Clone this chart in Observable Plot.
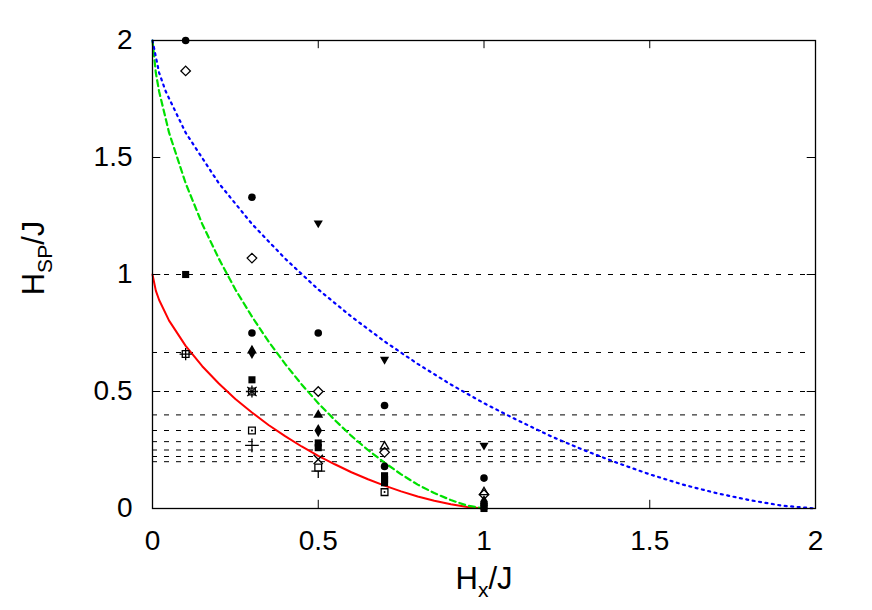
<!DOCTYPE html>
<html><head><meta charset="utf-8">
<script src="https://cdn.jsdelivr.net/npm/d3@7"></script>
<script src="https://cdn.jsdelivr.net/npm/@observablehq/plot@0.6"></script>
<style>body{margin:0;background:#fff;font-family:"Liberation Sans",Arial,sans-serif}</style>
</head><body><div id="chart"></div>
<script>
// axis ticks
const xTicks = [0, 0.5, 1, 1.5, 2];
const yTicks = [0, 0.5, 1, 1.5, 2];
// horizontal dashed reference levels
const hLines = [1, 0.6667, 0.5, 0.4, 0.3333, 0.2857, 0.25, 0.2222, 0.2];
// red solid curve
const redX = [0, 0.01, 0.02, 0.05, 0.1, 0.15, 0.2, 0.25, 0.3, 0.35, 0.4, 0.45, 0.5, 0.55, 0.6, 0.65, 0.7, 0.75, 0.8, 0.85, 0.9, 0.95, 1];
const redY = [1, 0.931, 0.891, 0.803, 0.695, 0.608, 0.534, 0.468, 0.410, 0.357, 0.309, 0.265, 0.225, 0.189, 0.155, 0.125, 0.098, 0.073, 0.051, 0.033, 0.018, 0.006, 0];
// green dashed curve
const greenX = [0, 0.01, 0.02, 0.05, 0.1, 0.15, 0.2, 0.25, 0.3, 0.35, 0.4, 0.45, 0.5, 0.55, 0.6, 0.65, 0.7, 0.75, 0.8, 0.85, 0.9, 0.95, 1];
const greenY = [2, 1.862, 1.782, 1.606, 1.39, 1.216, 1.068, 0.936, 0.82, 0.714, 0.618, 0.53, 0.45, 0.378, 0.31, 0.25, 0.196, 0.146, 0.102, 0.066, 0.036, 0.012, 0];
// blue dotted curve
const blueX = [0, 0.02, 0.04, 0.1, 0.2, 0.3, 0.4, 0.5, 0.6, 0.7, 0.8, 0.9, 1, 1.1, 1.2, 1.3, 1.4, 1.5, 1.6, 1.7, 1.8, 1.9, 2];
const blueY = [2, 1.862, 1.782, 1.606, 1.39, 1.216, 1.068, 0.936, 0.82, 0.714, 0.618, 0.53, 0.45, 0.378, 0.31, 0.25, 0.196, 0.146, 0.102, 0.066, 0.036, 0.012, 0];

// data points, grouped by marker
const circleX = [0.1, 0.3, 0.3, 0.5, 0.7, 0.7, 1.0, 1.0];
const circleY = [2.0, 1.33, 0.75, 0.75, 0.44, 0.18, 0.13, 0.02];
const diamondOpenX = [0.1, 0.3, 0.5, 0.7, 1.0];
const diamondOpenY = [1.87, 1.07, 0.5, 0.24, 0.06];
const squareFilledX = [0.1, 0.3, 0.5, 0.5, 0.7, 0.7, 0.7, 1.0, 1.0];
const squareFilledY = [1.0, 0.55, 0.28, 0.26, 0.14, 0.125, 0.11, 0.01, 0.0];
const squarePlusX = [0.1, 0.3];
const squarePlusY = [0.66, 0.5];
const diamondFilledX = [0.3, 0.5, 1.0];
const diamondFilledY = [0.667, 0.333, 0.03];
const triangleUpX = [0.3, 0.5];
const triangleUpY = [0.675, 0.40];
const triangleDownX = [0.5, 0.7, 1.0];
const triangleDownY = [1.22, 0.637, 0.27];
const triangleOpenX = [0.7, 1.0];
const triangleOpenY = [0.265, 0.07];
const squareDotX = [0.3, 0.7];
const squareDotY = [0.333, 0.07];
const plusX = [0.3, 0.5];
const plusY = [0.27, 0.16];
const squareOpenX = [0.5];
const squareOpenY = [0.175];
const crossX = [0.5, 0.3];
const crossY = [0.21, 0.5];

const zip = (xs, ys) => xs.map((x, i) => ({x, y: ys[i]}));
const fmt = d => String(d);

const chart = Plot.plot({
  width: 872, height: 610,
  marginLeft: 152, marginRight: 57, marginTop: 40, marginBottom: 102,
  style: {fontFamily: "Liberation Sans, Arial, sans-serif", fontSize: "28px", background: "white", color: "black"},
  x: {domain: [0, 2], ticks: xTicks, tickFormat: fmt, tickSize: 0, tickPadding: 22, label: null},
  y: {domain: [0, 2], ticks: yTicks, tickFormat: fmt, tickSize: 0, tickPadding: 20, label: null},
  marks: [
    Plot.ruleY(hLines, {y: d => d, x1: 0, x2: 1.985, stroke: "black", strokeWidth: 1, strokeDasharray: "5,7"}),
    Plot.line(zip(redX, redY), {x: "x", y: "y", stroke: "#ff0000", strokeWidth: 2}),
    Plot.line(zip(greenX, greenY), {x: "x", y: "y", stroke: "#00e000", strokeWidth: 2.2, strokeDasharray: "6,4"}),
    Plot.line(zip(blueX, blueY), {x: "x", y: "y", stroke: "#0000ff", strokeWidth: 2.2, strokeDasharray: "2,4.5"}),
    // inward ticks
    Plot.ruleX(xTicks, {x: d => d, y1: 0, y2: 0.035, stroke: "black"}),
    Plot.ruleX(xTicks, {x: d => d, y1: 2, y2: 1.965, stroke: "black"}),
    Plot.ruleY(yTicks, {y: d => d, x1: 0, x2: 0.025, stroke: "black"}),
    Plot.ruleY(yTicks, {y: d => d, x1: 2, x2: 1.975, stroke: "black"}),
    Plot.frame({stroke: "black", strokeWidth: 1.3}),
    // markers
    Plot.dot(zip(circleX, circleY), {x: "x", y: "y", symbol: "circle", fill: "black", r: 3.8}),
    Plot.dot(zip(diamondOpenX, diamondOpenY), {x: "x", y: "y", symbol: "diamond2", stroke: "black", fill: "white", strokeWidth: 1.3, r: 4.3}),
    Plot.dot(zip(squareFilledX, squareFilledY), {x: "x", y: "y", symbol: "square", fill: "black", r: 4}),
    Plot.dot(zip(squarePlusX, squarePlusY), {x: "x", y: "y", symbol: "square2", stroke: "black", fill: "white", strokeWidth: 1.3, r: 4.3}),
    Plot.dot(zip(squarePlusX, squarePlusY), {x: "x", y: "y", symbol: "plus", stroke: "black", strokeWidth: 1.3, r: 4}),
    Plot.dot(zip(diamondFilledX, diamondFilledY), {x: "x", y: "y", symbol: "diamond", fill: "black", r: 4}),
    Plot.dot(zip(triangleUpX, triangleUpY), {x: "x", y: "y", symbol: "triangle", fill: "black", r: 3.7}),
    Plot.dot(zip(triangleDownX, triangleDownY), {x: "x", y: "y", symbol: "triangle", fill: "black", r: 3.4, rotate: 180}),
    Plot.dot(zip(triangleOpenX, triangleOpenY), {x: "x", y: "y", symbol: "triangle2", stroke: "black", strokeWidth: 1.3, r: 4}),
    Plot.dot(zip(squareDotX, squareDotY), {x: "x", y: "y", symbol: "square2", stroke: "black", fill: "white", strokeWidth: 1.3, r: 4.3}),
    Plot.dot(zip(squareDotX, squareDotY), {x: "x", y: "y", symbol: "circle", fill: "black", r: 1}),
    Plot.dot(zip(plusX, plusY), {x: "x", y: "y", symbol: "plus", stroke: "black", strokeWidth: 1.3, r: 4.5}),
    Plot.dot(zip(squareOpenX, squareOpenY), {x: "x", y: "y", symbol: "square2", stroke: "black", fill: "white", strokeWidth: 1.3, r: 4.3}),
    Plot.dot(zip(crossX, crossY), {x: "x", y: "y", symbol: "times", stroke: "black", strokeWidth: 1.3, r: 4.3})
  ]
});

const svg = d3.select(chart);
// x axis label
const xl = svg.append("text").attr("x", 484).attr("y", 589).attr("text-anchor", "middle")
  .attr("font-size", 31).attr("fill", "black").attr("font-family", "Liberation Sans, Arial, sans-serif");
xl.append("tspan").text("H");
xl.append("tspan").attr("font-size", 21).attr("dy", 8).text("x");
xl.append("tspan").attr("dy", -8).text("/J");
// y axis label
const yl = svg.append("text").attr("transform", "translate(44,258) rotate(-90)").attr("text-anchor", "middle")
  .attr("font-size", 31).attr("fill", "black").attr("font-family", "Liberation Sans, Arial, sans-serif");
yl.append("tspan").text("H");
yl.append("tspan").attr("font-size", 21).attr("dy", 8).text("SP");
yl.append("tspan").attr("dy", -8).text("/J");

document.getElementById("chart").appendChild(chart);
</script>
</body></html>
